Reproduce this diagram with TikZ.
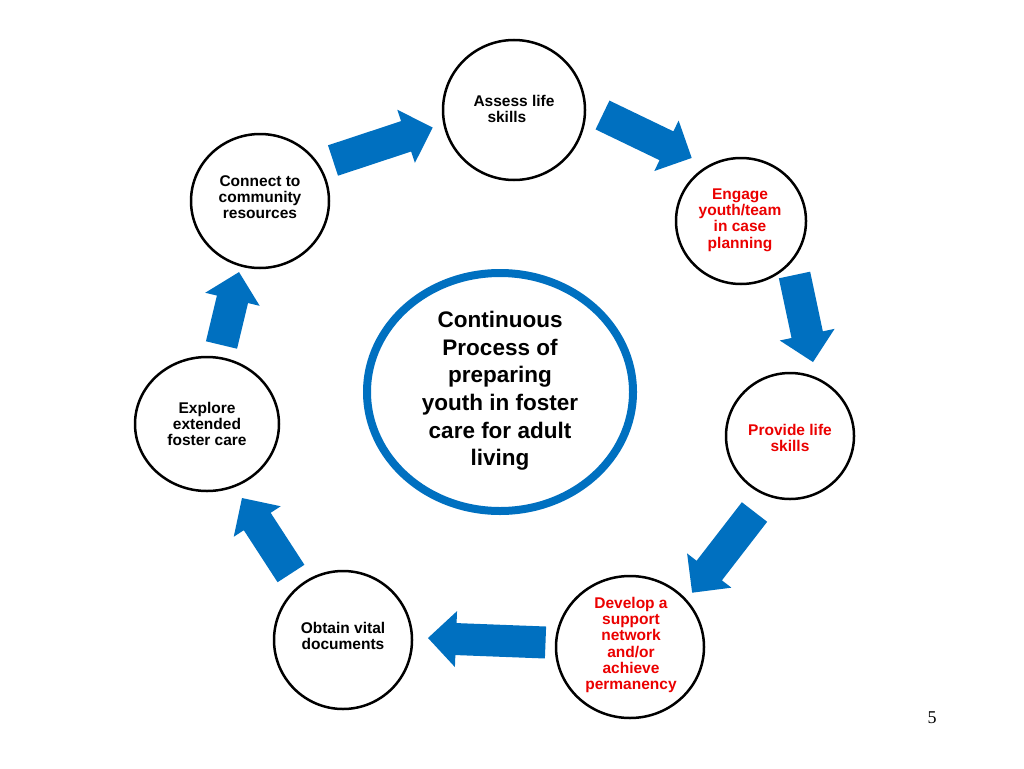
\documentclass[tikz,border=0pt]{standalone}
\usepackage{fontspec}
\setmainfont{Liberation Sans}
\newfontfamily\pagefont{Liberation Serif}
\usetikzlibrary{shapes.geometric}
\definecolor{arrowblue}{RGB}{0,112,192}
\definecolor{ringblue}{RGB}{0,112,192}
\definecolor{txtred}{RGB}{235,0,0}
\newcommand\barrow[3]{\begin{scope}[shift={(#1)},rotate=#2]
\fill[arrowblue] (0,-16) -- ({#3-28},-16) -- ({#3-28},-28) -- (#3,0) -- ({#3-28},28) -- ({#3-28},16) -- (0,16) -- cycle;
\end{scope}}
\tikzset{
  stage/.style={draw=black, line width=2.5pt, ellipse, inner sep=0pt, fill=white},
  lbl/.style={font=\fontsize{15.5}{16.3}\selectfont\bfseries, align=center, inner sep=0pt},
  redlbl/.style={lbl, text=txtred},
  hub/.style={draw=ringblue, line width=8pt, ellipse, inner sep=0pt, fill=white},
  hublbl/.style={font=\fontsize{22.5}{27.6}\selectfont\bfseries, align=center, inner sep=0pt}
}
\begin{document}
\begin{tikzpicture}[x=1pt,y=-1pt]
\useasboundingbox[fill=white] (0,0) rectangle (1024,768);

% stages
\node[stage, minimum width=142, minimum height=140] (assess) at (514,110) {};
\node[stage, minimum width=130, minimum height=126] (engage) at (741,221) {};
\node[stage, minimum width=128, minimum height=126] (provide) at (790,436) {};
\node[stage, minimum width=148, minimum height=142] (develop) at (630,647) {};
\node[stage, minimum width=138, minimum height=138] (obtain) at (343,640) {};
\node[stage, minimum width=144, minimum height=134] (explore) at (207,424) {};
\node[stage, minimum width=138, minimum height=134] (connect) at (260,201) {};

% hub
\node[hub, minimum width=266, minimum height=238] (hub) at (500,392) {};
\node[hublbl] (hubt) at (500,391) {Continuous\\Process of\\preparing\\youth in foster\\care for adult\\living};

% labels
\node[lbl, align=left] (assesst) at (514,109) {Assess life\\\hspace*{14pt}skills};
\node[redlbl] (engaget) at (740,220) {Engage\\youth/team\\in case\\planning};
\node[redlbl] (providet) at (790,438) {Provide life\\skills};
\node[redlbl] (developt) at (631,645) {Develop a\\support\\network\\and/or\\achieve\\permanency};
\node[lbl] (obtaint) at (343,636) {Obtain vital\\documents};
\node[lbl] (exploret) at (207,424) {Explore\\extended\\foster care};
\node[lbl] (connectt) at (260,197) {Connect to\\community\\resources};

% block arrows
\barrow{333,160.5}{18.3}{105}
\barrow{602.5,115}{-25.7}{99}
\barrow{794.5,275}{-78}{89}
\barrow{754.5,512}{-127.7}{102}
\barrow{545.5,642.5}{177.8}{117.6}
\barrow{291,573.5}{123}{90}
\barrow{221.5,345}{76.5}{75}

% page number
\node[font=\pagefont\fontsize{18}{20}\selectfont, inner sep=0pt] (pagenum) at (932,718) {5};
\end{tikzpicture}
\end{document}
